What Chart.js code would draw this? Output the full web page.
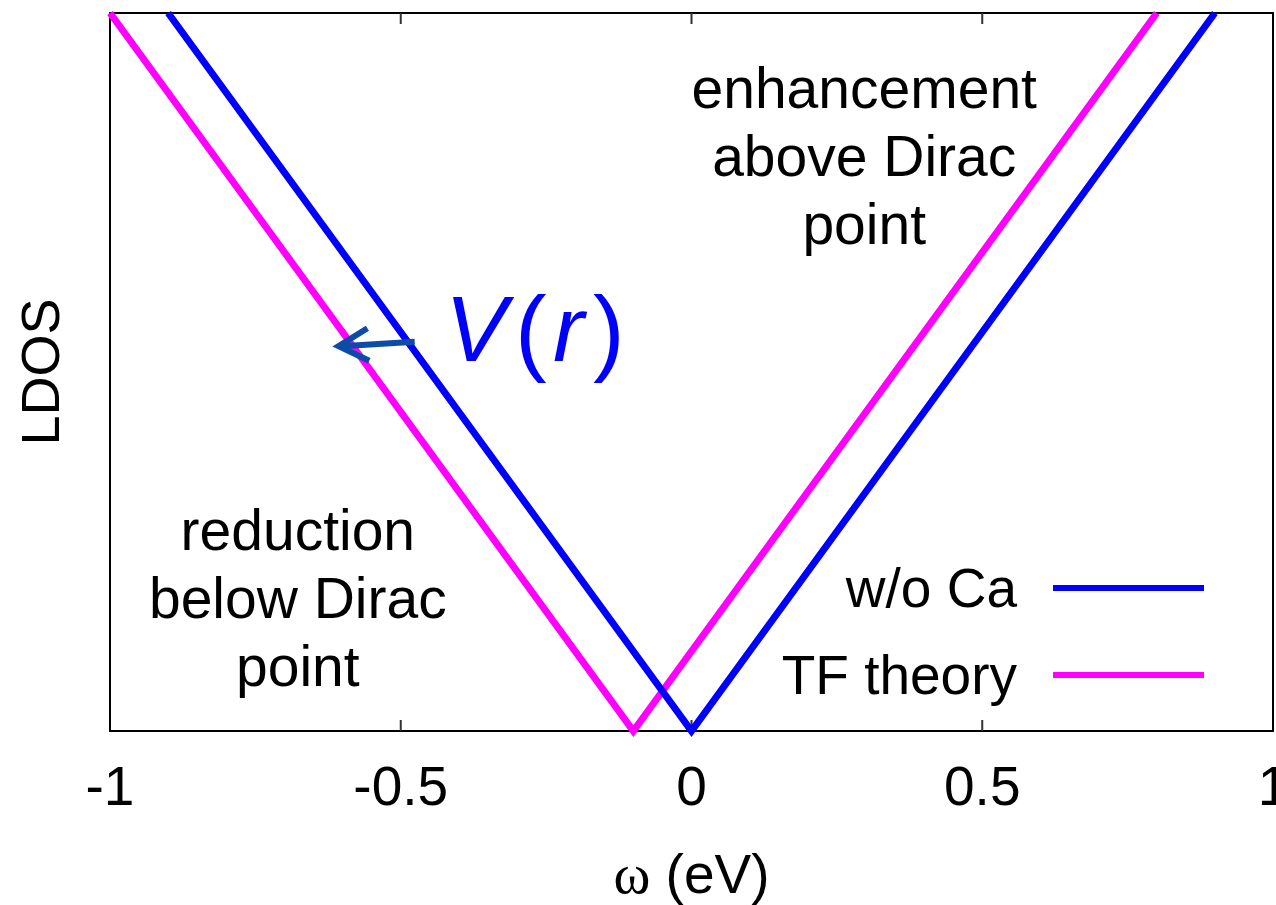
<!DOCTYPE html>
<html>
<head>
<meta charset="utf-8">
<title>LDOS vs energy</title>
<script src="https://cdn.jsdelivr.net/npm/chart.js@4.4.1/dist/chart.umd.min.js"></script>
<style>
  html, body { margin: 0; padding: 0; background: #fff; }
  #wrap { width: 1276px; height: 905px; position: relative; }
</style>
</head>
<body>
<div id="wrap"><canvas id="ldos"></canvas></div>
<script>
// Energy axis (eV) and LDOS, normalised to the top of the frame
const woCaOmega = [-0.9, 0, 0.9];
const woCaLdos = [1, 0, 1];
const tfOmega = [-1, -0.1, 0.8];
const tfLdos = [1, 0, 1];
const seriesLabels = ['w/o Ca', 'TF theory'];
const seriesColors = ['#0000ff', '#ff00ff'];

// Annotations: [x, first-line baseline y] in data units
const enhanceText = ['enhancement', 'above Dirac', 'point'];
const enhanceAt = [0.297, 0.868];
const reduceText = ['reduction', 'below Dirac', 'point'];
const reduceAt = [-0.677, 0.252];
const arrowFrom = [-0.476, 0.542];
const arrowTo = [-0.607, 0.536];
const potentialAt = [-0.424, 0.515];

const FONT = '"Liberation Sans", Arial, Helvetica, sans-serif';
const SIZE = 55;

function pts(xs, ys) {
    return xs.map((x, i) => ({ x: x, y: ys[i] }));
}

// Frame and inward ticks, drawn under the curves
const framePlugin = {
    id: 'frame',
    beforeDatasetsDraw(chart) {
        const { ctx, chartArea: a, scales } = chart;
        ctx.save();
        ctx.strokeStyle = '#000';
        ctx.lineWidth = 2;
        ctx.strokeRect(a.left, a.top, a.right - a.left, a.bottom - a.top);
        ctx.strokeStyle = '#333';
        scales.x.ticks.forEach(t => {
            const px = scales.x.getPixelForValue(t.value);
            if (px <= a.left + 2 || px >= a.right - 2) return;
            ctx.beginPath();
            ctx.moveTo(px, a.bottom);
            ctx.lineTo(px, a.bottom - 11);
            ctx.moveTo(px, a.top);
            ctx.lineTo(px, a.top + 11);
            ctx.stroke();
        });
        ctx.restore();
    }
};

// Text labels, the V(r) arrow, the key and the mixed-font x title
const notesPlugin = {
    id: 'notes',
    afterDatasetsDraw(chart) {
        const { ctx, chartArea: a, scales: { x, y } } = chart;
        ctx.save();
        ctx.fillStyle = '#000';
        ctx.textAlign = 'center';
        ctx.textBaseline = 'alphabetic';
        ctx.font = '57px ' + FONT;

        const block = (lines, at) => {
            const cx = x.getPixelForValue(at[0]);
            const by = y.getPixelForValue(at[1]);
            lines.forEach((s, i) => ctx.fillText(s, cx, by + i * 68));
        };
        block(enhanceText, enhanceAt);
        block(reduceText, reduceAt);

        // arrow pointing from the clean curve to the screened one
        const x0 = x.getPixelForValue(arrowFrom[0]), y0 = y.getPixelForValue(arrowFrom[1]);
        const x1 = x.getPixelForValue(arrowTo[0]), y1 = y.getPixelForValue(arrowTo[1]);
        const ang = Math.atan2(y1 - y0, x1 - x0);
        ctx.strokeStyle = '#0c4ca6';
        ctx.lineWidth = 6;
        ctx.lineCap = 'butt';
        ctx.lineJoin = 'miter';
        ctx.beginPath();
        ctx.moveTo(x0, y0);
        ctx.lineTo(x1 + 3, y1);
        ctx.stroke();
        ctx.beginPath();
        ctx.moveTo(x1 - 34 * Math.cos(ang - 0.5), y1 - 34 * Math.sin(ang - 0.5));
        ctx.lineTo(x1, y1);
        ctx.lineTo(x1 - 34 * Math.cos(ang + 0.5), y1 - 34 * Math.sin(ang + 0.5));
        ctx.stroke();

        // V(r)
        ctx.fillStyle = '#0000ff';
        ctx.textAlign = 'left';
        const vx = x.getPixelForValue(potentialAt[0]);
        const vy = y.getPixelForValue(potentialAt[1]);
        const italic = 'italic 93px ' + FONT;
        const upright = '95px ' + FONT;
        ctx.font = italic; ctx.fillText('V', vx, vy);
        ctx.font = upright; ctx.fillText('(', vx + 70, vy + 2);
        ctx.font = italic; ctx.fillText('r', vx + 108, vy);
        ctx.font = upright; ctx.fillText(')', vx + 148, vy + 2);

        // key, bottom right inside the frame
        ctx.font = SIZE + 'px ' + FONT;
        ctx.fillStyle = '#000';
        ctx.textAlign = 'right';
        chart.data.datasets.forEach((ds, i) => {
            const ly = a.bottom - 143 + i * 87;
            ctx.fillText(ds.label, a.right - 256, ly + 19);
            ctx.strokeStyle = ds.borderColor;
            ctx.lineWidth = 6;
            ctx.beginPath();
            ctx.moveTo(a.right - 220, ly);
            ctx.lineTo(a.right - 69, ly);
            ctx.stroke();
        });

        // x title: serif omega followed by sans "(eV)"
        const tb = a.bottom + 162;
        const omegaFont = '56px "Liberation Serif", "Times New Roman", serif';
        const restFont = SIZE + 'px ' + FONT;
        ctx.font = omegaFont;
        const w1 = ctx.measureText('\u03c9').width;
        ctx.font = restFont;
        const w2 = ctx.measureText(' (eV)').width;
        const cx = (a.left + a.right) / 2;
        const sx = cx - (w1 + w2) / 2;
        ctx.textAlign = 'left';
        ctx.font = omegaFont;
        ctx.fillText('\u03c9', sx, tb);
        ctx.font = restFont;
        ctx.fillText(' (eV)', sx + w1, tb);
        ctx.restore();
    }
};

Chart.defaults.color = '#000';
Chart.defaults.font.family = FONT;

new Chart(document.getElementById('ldos'), {
    type: 'line',
    data: {
        datasets: [
            {
                label: seriesLabels[0],
                data: pts(woCaOmega, woCaLdos),
                borderColor: seriesColors[0],
                borderWidth: 7,
                pointRadius: 0,
                tension: 0,
                clip: false
            },
            {
                label: seriesLabels[1],
                data: pts(tfOmega, tfLdos),
                borderColor: seriesColors[1],
                borderWidth: 7,
                pointRadius: 0,
                tension: 0,
                clip: false
            }
        ]
    },
    options: {
        responsive: true,
        maintainAspectRatio: false,
        animation: false,
        events: [],
        layout: { padding: { top: 13, right: 3, left: 0, bottom: 0 } },
        plugins: {
            legend: { display: false },
            tooltip: { enabled: false }
        },
        scales: {
            x: {
                type: 'linear',
                min: -1,
                max: 1,
                grid: { display: false, drawTicks: false },
                border: { display: false },
                ticks: {
                    stepSize: 0.5,
                    padding: 26,
                    maxRotation: 0,
                    autoSkip: false,
                    font: { size: SIZE },
                    callback(v) { return String(v); }
                },
                afterFit(scale) {
                    scale.height = 174;
                    scale.paddingLeft = 0;
                    scale.paddingRight = 0;
                }
            },
            y: {
                type: 'linear',
                min: 0,
                max: 1,
                grid: { display: false, drawTicks: false },
                border: { display: false },
                ticks: { display: false },
                title: {
                    display: true,
                    text: 'LDOS',
                    font: { size: 54 },
                    padding: { top: 12, bottom: 0 }
                },
                afterFit(scale) {
                    scale.width = 110;
                }
            }
        }
    },
    plugins: [framePlugin, notesPlugin]
});
</script>
</body>
</html>
